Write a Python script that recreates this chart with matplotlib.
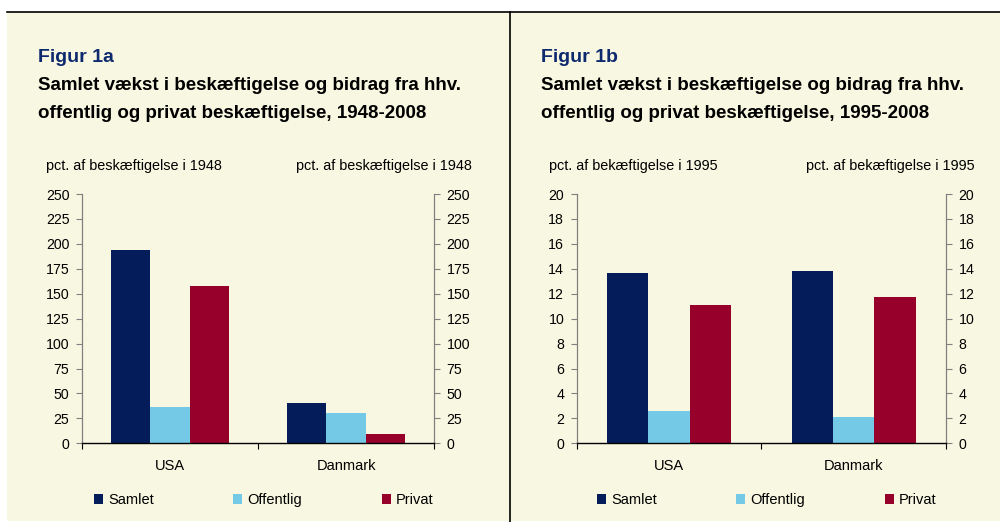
import matplotlib
matplotlib.use("Agg")
import matplotlib.pyplot as plt
from matplotlib.patches import Rectangle
from matplotlib.lines import Line2D

plt.rcParams['font.family'] = ['Liberation Sans', 'DejaVu Sans']

categories = ["USA", "Danmark"]
series_names = ["Samlet", "Offentlig", "Privat"]
values_a = {"Samlet": [194, 40], "Offentlig": [36, 30], "Privat": [158, 9]}
values_b = {"Samlet": [13.7, 13.8], "Offentlig": [2.6, 2.1], "Privat": [11.1, 11.7]}
yticks_a = list(range(0, 251, 25))
yticks_b = list(range(0, 21, 2))

fig_titles = ["Figur 1a", "Figur 1b"]
subtitles = ["Samlet vækst i beskæftigelse og bidrag fra hhv.\noffentlig og privat beskæftigelse, 1948-2008",
             "Samlet vækst i beskæftigelse og bidrag fra hhv.\noffentlig og privat beskæftigelse, 1995-2008"]
ylabels = ["pct. af beskæftigelse i 1948", "pct. af bekæftigelse i 1995"]

colors = {"Samlet": "#041C5A", "Offentlig": "#74C9E6", "Privat": "#96002A"}
cream = "#F8F7E1"
title_blue = "#0E2A6E"

W, H = 1000, 522
fig = plt.figure(figsize=(W / 100, H / 100), dpi=100, facecolor="white")

def fx(x):
    return x / W

def fy(y):
    return 1 - y / H

# background and frame lines
fig.patches.append(Rectangle((fx(7), fy(521)), fx(993), (521 - 12) / H,
                             transform=fig.transFigure, facecolor=cream, edgecolor="none", zorder=-10))
fig.lines.append(Line2D([fx(7), fx(1000)], [fy(12), fy(12)], transform=fig.transFigure,
                        color="black", lw=1.2, zorder=5))
fig.lines.append(Line2D([fx(510), fx(510)], [fy(12), fy(522)], transform=fig.transFigure,
                        color="black", lw=1.2, zorder=5))

panels = [
    dict(vals=values_a, yticks=yticks_a, ymax=250, ax=(82, 434), tx=37.7, lab=(45.7, 472), leg=94),
    dict(vals=values_b, yticks=yticks_b, ymax=20, ax=(576.7, 946), tx=541, lab=(549, 975), leg=597),
]

for i, p in enumerate(panels):
    x0, x1 = p["ax"]
    ytop, ybot = 194, 443.3
    ax = fig.add_axes([fx(x0), fy(ybot), (x1 - x0) / W, (ybot - ytop) / H])
    ax.set_zorder(1)
    ax.set_facecolor("none")
    w = 0.224
    xs = list(range(len(categories)))
    handles = []
    for k, name in enumerate(series_names):
        b = ax.bar([x + (k - 1) * w for x in xs], p["vals"][name], width=w,
                   color=colors[name], label=name, zorder=2)
        handles.append(b)
    ax.set_xlim(-0.5, len(categories) - 0.5)
    ax.set_ylim(0, p["ymax"])
    ax.set_yticks(p["yticks"])
    ax.tick_params(axis="y", which="both", left=True, right=True, labelleft=True, labelright=True,
                   direction="out", length=4, width=0.8, color="#808080", labelsize=10.2, pad=5,
                   labelcolor="black")
    ax.set_xticks([-0.5, 0.5, 1.5])
    ax.set_xticklabels([])
    ax.set_xticks(xs, minor=True)
    ax.set_xticklabels(categories, minor=True)
    ax.tick_params(axis="x", which="major", direction="out", length=4, width=0.8, color="black")
    ax.tick_params(axis="x", which="minor", length=0, labelsize=10.5, pad=11)
    ax.spines["top"].set_visible(False)
    for s in ("left", "right"):
        ax.spines[s].set_color("#808080")
        ax.spines[s].set_linewidth(0.9)
    ax.spines["bottom"].set_color("black")
    ax.spines["bottom"].set_linewidth(1.0)

    fig.text(fx(p["tx"]), fy(61.7), fig_titles[i], fontsize=14, fontweight="bold",
             color=title_blue, va="baseline", ha="left")
    lines = subtitles[i].split("\n")
    fig.text(fx(p["tx"]), fy(90), lines[0], fontsize=13.5, fontweight="bold", color="black",
             va="baseline", ha="left")
    fig.text(fx(p["tx"]), fy(118.3), lines[1], fontsize=13.5, fontweight="bold", color="black",
             va="baseline", ha="left")
    fig.text(fx(p["lab"][0]), fy(170), ylabels[i], fontsize=10.4, va="baseline", ha="left")
    fig.text(fx(p["lab"][1]), fy(170), ylabels[i], fontsize=10.4, va="baseline", ha="right")

    fig.legend(handles=handles, labels=series_names, loc="center left",
               bbox_to_anchor=(fx(p["leg"]), fy(500)), ncol=3, frameon=False,
               fontsize=10.5, handlelength=0.62, handleheight=0.72, handletextpad=0.35,
               columnspacing=5.45, borderpad=0, borderaxespad=0)

fig.savefig("out.png", dpi=100, facecolor="white")
